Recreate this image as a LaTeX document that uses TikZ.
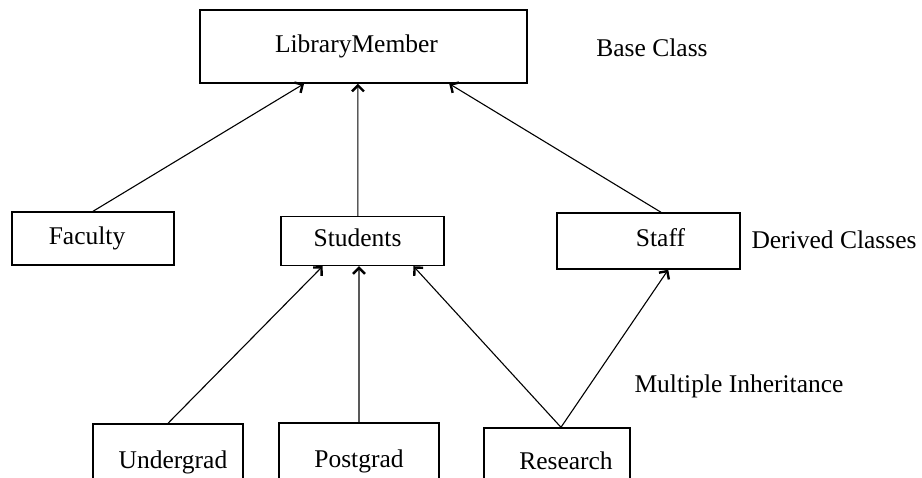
\documentclass[tikz,border=0pt]{standalone}
\usepackage{fontspec}
\setmainfont{Liberation Serif}
\usetikzlibrary{calc,arrows.meta}
\begin{document}
\begin{tikzpicture}[x=1pt,y=-1pt,
  cls/.style={draw,line width=1.4pt,rectangle,inner sep=0pt,
    text height=17pt,text depth=5pt,font=\fontsize{25.5}{30}\selectfont},
  note/.style={inner sep=0pt,anchor=base,font=\fontsize{25.5}{30}\selectfont},
  inh/.style={line width=1.1pt,-{Straight Barb[length=6pt,width=12pt,line width=2.4pt]}}]
\useasboundingbox (0,0) rectangle (922,478);
\clip (0,0) rectangle (922,478);

% class boxes
\node[cls,minimum width=327pt,minimum height=73pt] (lm) at (363.5,46.5) {\hspace*{-14pt}LibraryMember};
\node[cls,minimum width=162pt,minimum height=53pt] (fac) at (93,238.5) {\hspace*{-12pt}Faculty};
\node[cls,minimum width=163pt,minimum height=49pt] (stu) at (362.5,241) {\hspace*{-10pt}Students};
\node[cls,minimum width=183pt,minimum height=56pt] (stf) at (648.5,241) {\hspace*{24pt}Staff};
\node[cls,minimum width=150pt,minimum height=76pt] (ug) at (168,462) {\hspace*{10pt}Undergrad};
\node[cls,minimum width=160pt,minimum height=77pt] (pg) at (359,461.5) {Postgrad};
\node[cls,minimum width=146pt,minimum height=72pt] (res) at (557,464) {\hspace*{18pt}Research};

% side notes
\node[note] (base) at (652,57) {Base Class};
\node[note] (derived) at (834,249) {Derived Classes};
\node[note] (multi) at (739,393) {Multiple Inheritance};

% inheritance arrows
\draw[inh] (fac.north) -- ($(lm.south west)!0.319!(lm.south east)$);
\draw[inh] ($(stu.north west)!0.472!(stu.north east)$) -- ($(lm.south west)!0.483!(lm.south east)$);
\draw[inh] ($(stf.north west)!0.568!(stf.north east)$) -- ($(lm.south west)!0.761!(lm.south east)$);
\draw[inh] (ug.north) -- ($(stu.south west)!0.258!(stu.south east)$);
\draw[inh] (pg.north) -- ($(stu.south west)!0.479!(stu.south east)$);
\draw[inh] ($(res.north west)!0.527!(res.north east)$) -- ($(stu.south west)!0.81!(stu.south east)$);
\draw[inh] ($(res.north west)!0.527!(res.north east)$) -- ($(stf.south west)!0.607!(stf.south east)$);
\end{tikzpicture}
\end{document}
